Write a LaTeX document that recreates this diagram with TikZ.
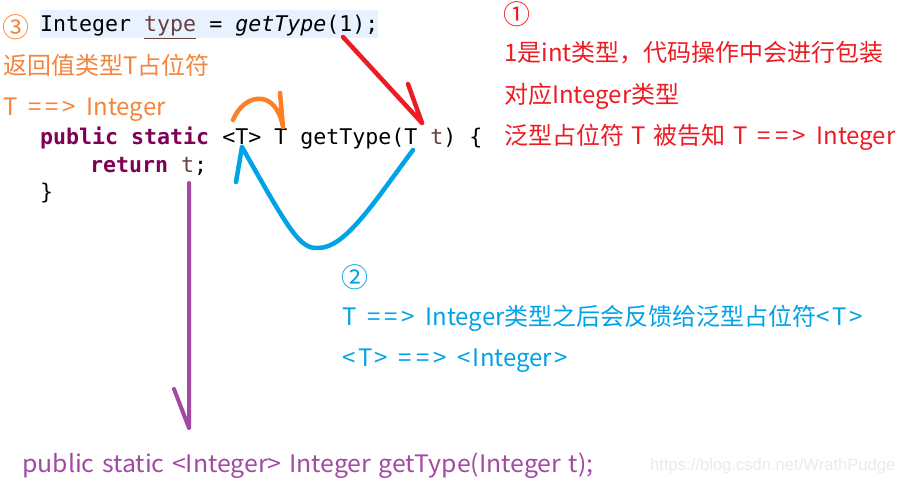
\documentclass[tikz,border=0pt]{standalone}
\usepackage{fontspec}
\newfontfamily\codefont{DejaVu Sans Mono}
\newfontfamily\cjk{Noto Sans CJK SC}
\newfontfamily\cjkwide[FakeStretch=1.036]{Noto Sans CJK SC}
\newfontfamily\wmfont{Liberation Sans}
\newcommand\darrow{\kern3pt=\kern4pt=\kern4pt>\kern3pt}
\newcommand\angl[1]{<\kern2.5pt #1\kern2.5pt>}
\newcommand\notefont{\cjk\fontsize{24}{24}\selectfont\spaceskip 7.5pt\relax}
\newcommand\widefont{\cjkwide\fontsize{24}{24}\selectfont\spaceskip 7.5pt\relax}
\definecolor{kw}{HTML}{7F0055}
\definecolor{var}{HTML}{6A3E3E}
\definecolor{hl}{HTML}{E8F2FE}
\definecolor{cred}{HTML}{ED1C24}
\definecolor{corange}{HTML}{FF7F27}
\definecolor{corangetxt}{HTML}{F5843C}
\definecolor{cblue}{HTML}{00A2E8}
\definecolor{cpurple}{HTML}{A349A4}
\definecolor{wm}{HTML}{EBEBEB}
\begin{document}
\begin{tikzpicture}[x=1pt,y=-1pt,
  code/.style={inner sep=0pt, anchor=base west, font=\codefont\fontsize{21.6}{22}\selectfont},
  note/.style={inner sep=0pt, anchor=base west, font=\notefont},
  num/.style={inner sep=0pt, anchor=base west, font=\cjk\fontsize{27}{27}\selectfont},
  stroke/.style={line width=4.5pt, line cap=round, line join=round}]
\useasboundingbox (0,0) rectangle (901,484);
\fill[white] (0,0) rectangle (901,484);
% highlight of first code line
\fill[hl] (40,10) rectangle (378,38);
% code
\node[code] (c1) at (40,32) {Integer \textcolor{var}{\underline{type}} = \textit{getType}(1);};
\node[code] (c2) at (40,144) {\textcolor{kw}{\bfseries public static} <T> T getType(T \textcolor{var}{t}) \{};
\node[code] (c3) at (90,172) {\textcolor{kw}{\bfseries return} \textcolor{var}{t};};
\node[code] (c4) at (40,199) {\}};
% orange notes
\node[num, text=corangetxt] (n3) at (2,38) {③};
\node[note, text=corangetxt] (o1) at (3,75) {返回值类型T占位符};
\node[note, text=corangetxt] (o2) at (3,116) {T \darrow{} Integer};
% red notes
\node[num, text=cred] (n1) at (503,25) {①};
\node[note, text=cred] (r1) at (504,62) {1是int类型，代码操作中会进行包装};
\node[note, text=cred] (r2) at (504,103) {对应Integer类型};
\node[note, text=cred] (r3) at (504,144) {泛型占位符 T 被告知 T \darrow{} Integer};
% blue notes
\node[num, text=cblue] (n2) at (341,287) {②};
\node[note, text=cblue] (b1) at (342,325) {T \darrow{} Integer类型之后会反馈给泛型占位符\angl{T}};
\node[note, text=cblue] (b2) at (342,366) {\angl{T} \darrow{} \angl{Integer}};
% purple result
\node[inner sep=0pt, anchor=base west, font=\widefont, text=cpurple] (p1) at (22,472) {public static <Integer> Integer getType(Integer t);};
% watermark
\node[inner sep=0pt, anchor=base west, text=wm, font=\wmfont\fontsize{16.6}{17}\selectfont] (wmk) at (650,470) {https://blog.csdn.net/WrathPudge};
% red arrow
\coordinate (rs) at (343,37);
\coordinate (rt) at (422,123);
\coordinate (ra) at (408,84);
\draw[stroke, cred] (rs) -- (rt) (ra) -- (rt);
% orange arrow
\coordinate (os) at (233,120);
\coordinate (ot) at (283,127);
\coordinate (oa) at (280,93);
\draw[stroke, corange] (os) .. controls (244,93) and (276,88) .. (ot) (oa) -- (ot);
% blue arrow
\coordinate (bs) at (413,150);
\coordinate (bb) at (318,248);
\coordinate (bt) at (242,147);
\coordinate (ba) at (236,182);
\draw[stroke, cblue] (bs) .. controls (372,205) and (345,248) .. (bb)
  .. controls (300,249) and (290,232) .. (bt) (ba) -- (bt);
% purple arrow
\coordinate (ps) at (189,183);
\coordinate (pt) at (189,428);
\coordinate (pa) at (174,389);
\draw[stroke, cpurple, line width=4pt] (ps) -- (pt) (pa) -- (pt);
\end{tikzpicture}
\end{document}
